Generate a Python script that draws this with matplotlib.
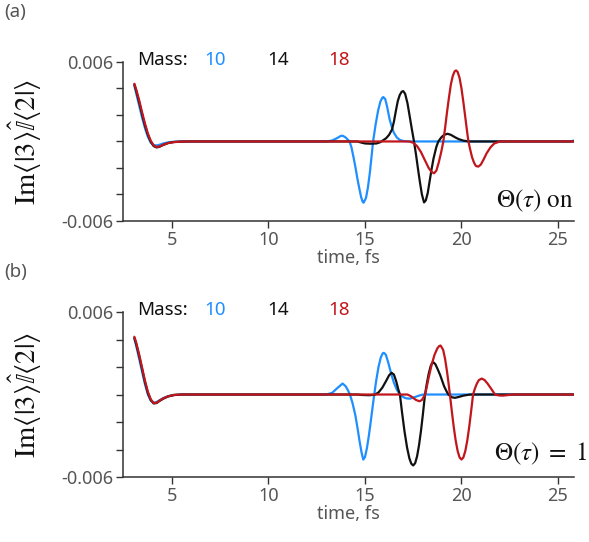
import numpy as np
import matplotlib
matplotlib.use("Agg")
import matplotlib.pyplot as plt

plt.rcParams['font.family'] = ['Noto Sans', 'DejaVu Sans']
plt.rcParams['font.weight'] = 'light'
plt.rcParams['mathtext.fontset'] = 'stix'

# values, in units of 1e-3
SCALE = 1e-3

# shared start (t = 3 .. 6 fs)
t_start = [3.05, 3.15, 3.3, 3.45, 3.6, 3.75, 3.9, 4.05, 4.2, 4.35, 4.55, 4.8, 5.1, 5.5, 6.0]
blue_start_a = [4.2, 3.6, 2.7, 1.8, 1.0, 0.35, -0.1, -0.28, -0.3, -0.25, -0.15, -0.07, -0.02, 0.0, 0.0]
black_start_a = [4.3, 3.8, 2.95, 2.05, 1.2, 0.5, -0.02, -0.35, -0.45, -0.4, -0.26, -0.12, -0.04, -0.01, 0.0]
red_start_a = [4.35, 3.9, 3.1, 2.2, 1.35, 0.6, 0.05, -0.3, -0.42, -0.38, -0.25, -0.12, -0.05, -0.01, 0.0]
blue_start_b = [4.05, 3.5, 2.6, 1.65, 0.75, 0.0, -0.45, -0.6, -0.55, -0.42, -0.26, -0.12, -0.03, 0.0, 0.0]
black_start_b = [4.12, 3.65, 2.8, 1.85, 0.9, 0.1, -0.4, -0.65, -0.62, -0.47, -0.3, -0.14, -0.04, 0.0, 0.0]
red_start_b = [4.2, 3.75, 2.9, 1.95, 1.0, 0.2, -0.35, -0.62, -0.6, -0.45, -0.28, -0.13, -0.03, 0.0, 0.0]

# panel (a): Theta(tau) on
t_blue_a = [13.0, 13.3, 13.55, 13.75, 13.85, 14.0, 14.1, 14.2, 14.3, 14.4, 14.5, 14.6, 14.7, 14.8,
            14.88, 14.93, 15.05, 15.15, 15.25, 15.35, 15.42, 15.55, 15.68, 15.8, 15.9, 15.95, 16.05,
            16.15, 16.28, 16.4, 16.5, 16.65, 16.8, 17.0, 17.3, 25.6, 25.8, 26.0]
v_blue_a = [0.0, 0.07, 0.25, 0.42, 0.43, 0.3, 0.15, 0.0, -0.45, -1.15, -1.9, -2.75, -3.5, -4.2,
            -4.55, -4.62, -4.27, -3.5, -2.38, -1.0, 0.0, 1.27, 2.33, 3.02, 3.3, 3.35, 3.2,
            2.6, 1.65, 1.05, 0.65, 0.3, 0.12, 0.03, 0.0, 0.0, 0.05, 0.17]

t_black_a = [14.6, 14.8, 15.0, 15.3, 15.6, 15.8, 15.95, 16.1, 16.25, 16.4, 16.5, 16.6, 16.7, 16.8,
             16.9, 16.98, 17.08, 17.2, 17.3, 17.42, 17.54, 17.65, 17.75, 17.85, 17.95, 18.06, 18.15,
             18.25, 18.35, 18.45, 18.55, 18.7, 18.8, 18.95, 19.1, 19.28, 19.45, 19.65, 19.85, 20.1,
             20.4, 26.0]
v_black_a = [0.0, -0.08, -0.15, -0.17, -0.15, -0.05, 0.1, 0.25, 0.5, 0.9, 1.5, 2.3, 3.05, 3.5,
             3.75, 3.8, 3.6, 2.9, 2.05, 1.0, 0.0, -1.05, -2.1, -3.1, -4.0, -4.6, -4.45,
             -3.9, -3.0, -2.1, -1.3, -0.4, 0.0, 0.3, 0.5, 0.58, 0.5, 0.33, 0.18, 0.06,
             0.0, 0.0]

t_red_a = [17.3, 17.5, 17.7, 17.9, 18.1, 18.3, 18.45, 18.58, 18.7, 18.82, 18.95, 19.06, 19.15,
           19.25, 19.35, 19.45, 19.55, 19.65, 19.72, 19.8, 19.9, 20.0, 20.1, 20.2, 20.3, 20.36,
           20.45, 20.55, 20.65, 20.75, 20.87, 21.0, 21.15, 21.3, 21.5, 21.7, 22.0, 26.0]
v_red_a = [0.0, -0.1, -0.35, -0.8, -1.4, -2.0, -2.3, -2.4, -2.2, -1.6, -0.8, 0.0, 1.0,
           2.2, 3.3, 4.3, 4.95, 5.3, 5.36, 5.25, 4.8, 4.0, 2.95, 1.8, 0.65, 0.0,
           -0.6, -1.2, -1.6, -1.85, -1.9, -1.75, -1.35, -0.9, -0.45, -0.15, 0.0, 0.0]

# panel (b): Theta(tau) = 1
t_blue_b = [13.0, 13.3, 13.55, 13.84, 14.0, 14.12, 14.22, 14.35, 14.5, 14.62, 14.72, 14.82, 14.91,
            15.0, 15.1, 15.2, 15.3, 15.4, 15.48, 15.58, 15.7, 15.82, 15.92, 15.98, 16.08, 16.2,
            16.35, 16.5, 16.65, 16.81, 17.0, 17.15, 17.33, 17.55, 17.8, 18.0, 26.0]
v_blue_b = [0.0, 0.12, 0.45, 0.8, 0.6, 0.3, 0.0, -0.6, -1.5, -2.5, -3.4, -4.2, -4.73,
            -4.55, -3.9, -3.0, -1.95, -0.85, 0.0, 1.0, 2.0, 2.7, 3.0, 3.03, 2.9, 2.35,
            1.55, 0.85, 0.35, 0.0, -0.2, -0.28, -0.3, -0.2, -0.08, 0.0, 0.0]

t_black_b = [14.6, 14.8, 15.2, 15.5, 15.7, 15.9, 16.1, 16.25, 16.38, 16.5, 16.62, 16.72, 16.81,
             16.92, 17.05, 17.18, 17.3, 17.4, 17.5, 17.6, 17.7, 17.8, 17.9, 18.0, 18.11, 18.2,
             18.3, 18.4, 18.48, 18.54, 18.65, 18.78, 18.9, 19.0, 19.1, 19.22, 19.32, 19.5, 19.66,
             19.85, 20.1, 20.44, 26.0]
v_black_b = [0.0, -0.03, -0.05, -0.02, 0.15, 0.5, 1.0, 1.4, 1.58, 1.45, 0.95, 0.4, 0.0,
             -1.3, -2.7, -3.85, -4.64, -5.03, -5.16, -4.99, -4.49, -3.69, -2.66, -1.45, 0.0, 0.76,
             1.5, 2.05, 2.3, 2.35, 2.2, 1.8, 1.4, 1.0, 0.6, 0.25, 0.0, -0.2, -0.24,
             -0.18, -0.08, 0.0, 0.0]

t_red_b = [17.2, 17.35, 17.5, 17.65, 17.82, 17.95, 18.05, 18.12, 18.3, 18.45, 18.6, 18.75, 18.85,
           18.92, 19.05, 19.15, 19.25, 19.32, 19.4, 19.5, 19.6, 19.7, 19.8, 19.9, 20.0, 20.1,
           20.2, 20.3, 20.4, 20.5, 20.6, 20.7, 20.8, 20.9, 21.05, 21.2, 21.35, 21.5, 21.62,
           21.74, 21.95, 22.15, 22.4, 22.7, 26.0]
v_red_b = [0.0, -0.1, -0.25, -0.4, -0.49, -0.4, -0.15, 0.0, 1.23, 2.14, 2.88, 3.36, 3.53,
           3.56, 3.25, 2.6, 1.68, 0.93, 0.0, -1.22, -2.37, -3.35, -4.1, -4.57, -4.73, -4.57,
           -4.1, -3.35, -2.37, -1.22, 0.0, 0.45, 0.8, 1.05, 1.16, 1.05, 0.8, 0.5, 0.25,
           0.0, -0.07, -0.08, -0.04, 0.0, 0.0]

masses = ['10', '14', '18']
colors = ['#1f8fff', '#111111', '#c0161c']
panel_labels = ['(a)', '(b)']
theta_labels = [r'$\Theta(\tau)\ \mathrm{on}$', r'$\Theta(\tau)\ =\ 1$']
xticks = [5, 10, 15, 20, 25]
yticks = [-0.006, -0.004, -0.002, 0.0, 0.002, 0.004, 0.006]
ytick_labels = ['-0.006', '', '', '', '', '', '0.006']

panels = [
    [(t_blue_a, blue_start_a, v_blue_a), (t_black_a, black_start_a, v_black_a), (t_red_a, red_start_a, v_red_a)],
    [(t_blue_b, blue_start_b, v_blue_b), (t_black_b, black_start_b, v_black_b), (t_red_b, red_start_b, v_red_b)],
]

fig = plt.figure(figsize=(5.89, 5.42), dpi=100)
axes_rects = [[0.2088, 0.5923, 0.7657, 0.2934], [0.2088, 0.1199, 0.7657, 0.3044]]
label_y = [0.995, 0.515]
theta_x = [1.0, 1.03]
theta_y = [0.125, 0.14]
gray = '#555555'

for i, rect in enumerate(axes_rects):
    ax = fig.add_axes(rect)
    for (t, v0, v), c in zip(panels[i], colors):
        tt = np.array(t_start + t)
        vv = np.array(v0 + v) * SCALE
        ax.plot(tt, vv, color=c, lw=1.6, solid_capstyle='round')
    ax.set_xlim(2.46, 25.83)
    ax.set_ylim(-0.006, 0.006)
    ax.set_xticks(xticks)
    ax.set_yticks(yticks)
    ax.set_yticklabels(ytick_labels)
    ax.tick_params(direction='out', length=5, width=1, colors='#333333',
                   labelcolor=gray, labelsize=13, pad=2)
    for s in ['top', 'right']:
        ax.spines[s].set_visible(False)
    for s in ['left', 'bottom']:
        ax.spines[s].set_color('#333333')
        ax.spines[s].set_linewidth(1.1)
    ax.set_xlabel('time, fs', color=gray, fontsize=13, labelpad=0)
    ax.set_ylabel(r'$\mathrm{Im}\langle|3\rangle\hat{\mathbb{I}}\langle 2|\rangle$',
                  fontsize=20.5, color='#111111')
    ax.yaxis.set_label_coords(-0.175, 0.5)

    # mass legend as coloured text
    ax.text(0.031, 1.012, 'Mass:', transform=ax.transAxes, fontsize=13.5,
            color='#111111', va='center', ha='left')
    for x, m, c in zip([0.18, 0.32, 0.455], masses, colors):
        ax.text(x, 1.012, m, transform=ax.transAxes, fontsize=13.5,
                color=c, va='center', ha='left')
    ax.text(theta_x[i], theta_y[i], theta_labels[i], transform=ax.transAxes, fontsize=18,
            color='#111111', ha='right', va='center')
    fig.text(0.008, label_y[i], panel_labels[i], fontsize=13.5, color=gray,
             ha='left', va='top')

fig.savefig('out.png', dpi=100)
